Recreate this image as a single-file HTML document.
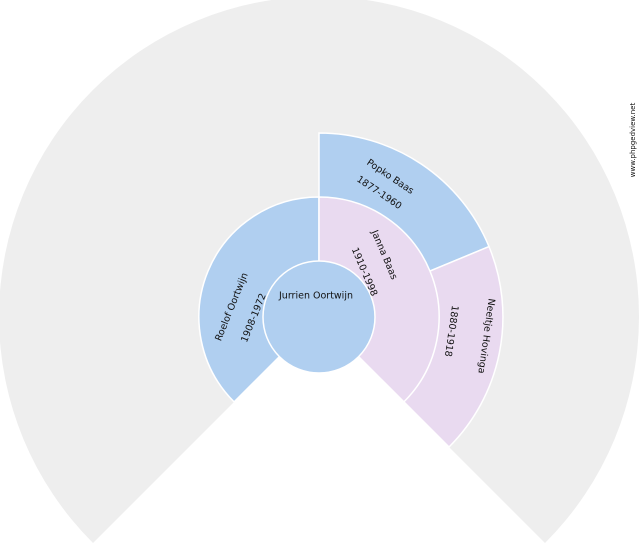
<!DOCTYPE html>
<html><head><style>body{margin:0;background:#fff}svg{display:block}text{font-family:"DejaVu Sans","Liberation Sans",sans-serif;font-size:9.5px;fill:#111;text-anchor:middle;dominant-baseline:middle}</style></head>
<body>
<svg width="640" height="550" viewBox="0 0 640 550">
<path d="M319,317 L93,543 A320,320 0 1 1 545,543 Z" fill="#eeeeee"/>
<path d="M319,317 L319,133 A184,184 0 0 1 489,246.6 Z" fill="#b0cff0" stroke="#fff" stroke-width="1.5"/>
<path d="M319,317 L489,246.6 A184,184 0 0 1 449,447 Z" fill="#e9daf0" stroke="#fff" stroke-width="1.5"/>
<path d="M319,317 L234.1,401.9 A120,120 0 0 1 319,197 Z" fill="#b0cff0" stroke="#fff" stroke-width="1.5"/>
<path d="M319,317 L319,197 A120,120 0 0 1 403.9,401.9 Z" fill="#e9daf0" stroke="#fff" stroke-width="1.5"/>
<circle cx="319" cy="317" r="56" fill="#b0cff0" stroke="#fff" stroke-width="1.5"/>
<text x="316" y="296">Jurrien Oortwijn</text>
<text transform="translate(390,177) rotate(34)">Popko Baas</text>
<text transform="translate(379,193) rotate(34)">1877-1960</text>
<text transform="translate(384,255) rotate(67)">Janna Baas</text>
<text transform="translate(364,272) rotate(67)">1910-1998</text>
<text transform="translate(232,307) rotate(-68)">Roelof Oortwijn</text>
<text transform="translate(254,318) rotate(-68)">1908-1972</text>
<text transform="translate(486,336) rotate(98)">Neeltje Hovinga</text>
<text transform="translate(451,331) rotate(98)">1880-1918</text>
<text transform="translate(633,140) rotate(-90)" style="font-size:7px">www.phpgedview.net</text>
</svg>
</body></html>
